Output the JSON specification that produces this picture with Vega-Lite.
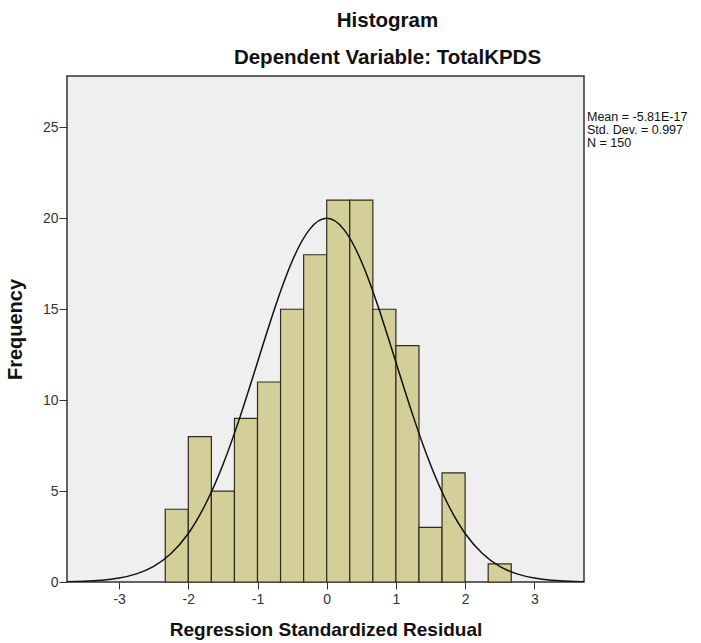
{
  "$schema": "https://vega.github.io/schema/vega-lite/v6.json",
  "width": 517,
  "height": 506,
  "autosize": "none",
  "padding": {"left": 67, "top": 76, "right": 117, "bottom": 61},
  "background": "white",
  "config": {
    "font": "Liberation Sans",
    "view": {"fill": "#efefef", "stroke": "#333333", "strokeWidth": 1.5},
    "axis": {"grid": false, "labelFont": "Liberation Sans", "labelFontSize": 14, "labelColor": "#333333", "tickColor": "#333333", "domainColor": "#333333", "titleFont": "Liberation Sans", "titleFontWeight": "bold", "titleColor": "#111111"}
  },
  "title": {
    "text": ["Histogram", "Dependent Variable: TotalKPDS"],
    "fontSize": 20.5,
    "fontWeight": "bold",
    "color": "#111111",
    "lineHeight": 37,
    "anchor": "middle",
    "dx": 62,
    "offset": 8
  },
  "datasets": {
    "bins": [
      {"start": -2.3333, "end": -2.0, "count": 4},
      {"start": -2.0, "end": -1.6667, "count": 8},
      {"start": -1.6667, "end": -1.3333, "count": 5},
      {"start": -1.3333, "end": -1.0, "count": 9},
      {"start": -1.0, "end": -0.6667, "count": 11},
      {"start": -0.6667, "end": -0.3333, "count": 15},
      {"start": -0.3333, "end": 0.0, "count": 18},
      {"start": 0.0, "end": 0.3333, "count": 21},
      {"start": 0.3333, "end": 0.6667, "count": 21},
      {"start": 0.6667, "end": 1.0, "count": 15},
      {"start": 1.0, "end": 1.3333, "count": 13},
      {"start": 1.3333, "end": 1.6667, "count": 3},
      {"start": 1.6667, "end": 2.0, "count": 6},
      {"start": 2.3333, "end": 2.6667, "count": 1}
    ],
    "curve": [
      {"x": -3.76, "y": 0.016},
      {"x": -3.5, "y": 0.042},
      {"x": -3.25, "y": 0.099},
      {"x": -3.0, "y": 0.216},
      {"x": -2.75, "y": 0.446},
      {"x": -2.5, "y": 0.86},
      {"x": -2.25, "y": 1.57},
      {"x": -2.0, "y": 2.67},
      {"x": -1.75, "y": 4.29},
      {"x": -1.5, "y": 6.45},
      {"x": -1.25, "y": 9.11},
      {"x": -1.0, "y": 12.09},
      {"x": -0.75, "y": 15.07},
      {"x": -0.5, "y": 17.64},
      {"x": -0.25, "y": 19.38},
      {"x": 0.0, "y": 20.0},
      {"x": 0.25, "y": 19.38},
      {"x": 0.5, "y": 17.64},
      {"x": 0.75, "y": 15.07},
      {"x": 1.0, "y": 12.09},
      {"x": 1.25, "y": 9.11},
      {"x": 1.5, "y": 6.45},
      {"x": 1.75, "y": 4.29},
      {"x": 2.0, "y": 2.67},
      {"x": 2.25, "y": 1.57},
      {"x": 2.5, "y": 0.86},
      {"x": 2.75, "y": 0.446},
      {"x": 3.0, "y": 0.216},
      {"x": 3.25, "y": 0.099},
      {"x": 3.5, "y": 0.042},
      {"x": 3.76, "y": 0.016}
    ]
  },
  "layer": [
    {
      "data": {"name": "bins"},
      "mark": {"type": "bar", "fill": "#d4cf98", "stroke": "#2e2c1e", "strokeWidth": 1.2},
      "encoding": {
        "x": {
          "field": "start", "type": "quantitative",
          "scale": {"domain": [-3.753, 3.718], "nice": false, "zero": false},
          "axis": {"values": [-3, -2, -1, 0, 1, 2, 3], "labelExpr": "'' + datum.value", "title": "Regression Standardized Residual", "titleFontSize": 19, "tickSize": 7, "labelPadding": 3, "titlePadding": 14, "domain": false}
        },
        "x2": {"field": "end"},
        "y": {
          "field": "count", "type": "quantitative",
          "scale": {"domain": [0, 27.83], "nice": false},
          "axis": {"values": [0, 5, 10, 15, 20, 25], "title": "Frequency", "titleFontSize": 20, "tickSize": 8, "labelPadding": 1, "titlePadding": 17, "domain": false}
        },
        "y2": {"datum": 0}
      }
    },
    {
      "data": {"name": "curve"},
      "mark": {"type": "line", "color": "#111111", "strokeWidth": 1.5, "interpolate": "natural", "clip": true},
      "encoding": {
        "x": {"field": "x", "type": "quantitative"},
        "y": {"field": "y", "type": "quantitative"}
      }
    },
    {
      "data": {"values": [{}]},
      "mark": {"type": "text", "align": "left", "baseline": "middle", "fontSize": 12.5, "color": "#111111", "dx": 3, "font": "Liberation Sans"},
      "encoding": {
        "x": {"datum": 3.718, "type": "quantitative"},
        "y": {"datum": 25.58, "type": "quantitative"},
        "text": {"value": "Mean = -5.81E-17"}
      }
    },
    {
      "data": {"values": [{}]},
      "mark": {"type": "text", "align": "left", "baseline": "middle", "fontSize": 12.5, "color": "#111111", "dx": 3, "font": "Liberation Sans"},
      "encoding": {
        "x": {"datum": 3.718, "type": "quantitative"},
        "y": {"datum": 24.86, "type": "quantitative"},
        "text": {"value": "Std. Dev. = 0.997"}
      }
    },
    {
      "data": {"values": [{}]},
      "mark": {"type": "text", "align": "left", "baseline": "middle", "fontSize": 12.5, "color": "#111111", "dx": 3, "font": "Liberation Sans"},
      "encoding": {
        "x": {"datum": 3.718, "type": "quantitative"},
        "y": {"datum": 24.15, "type": "quantitative"},
        "text": {"value": "N = 150"}
      }
    }
  ]
}
